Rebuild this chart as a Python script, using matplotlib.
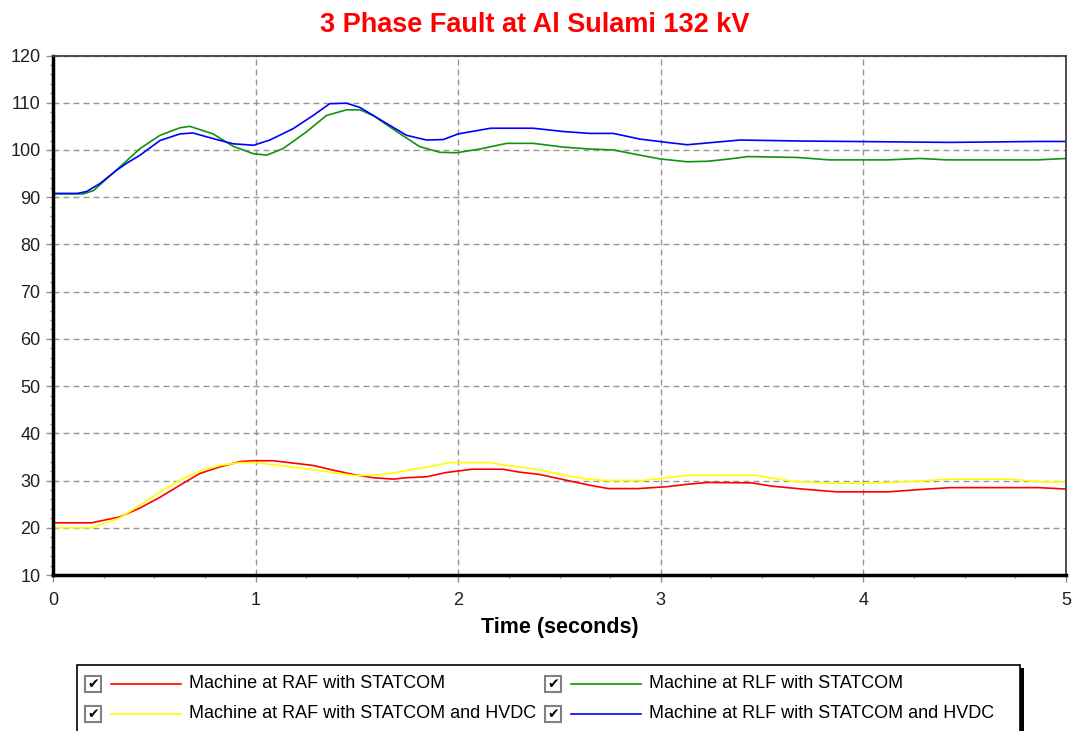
import matplotlib.pyplot as plt
from matplotlib.lines import Line2D
from matplotlib.patches import Rectangle
from matplotlib.ticker import MultipleLocator

plt.rcParams['font.family'] = ['Liberation Sans', 'DejaVu Sans']

# --------------- data ---------------
t_raf = [0, 0.19, 0.33, 0.43, 0.53, 0.626, 0.725, 0.824, 0.922, 0.988, 1.086,
         1.185, 1.284, 1.383, 1.48, 1.58, 1.68, 1.745, 1.844, 1.94, 2.07, 2.22,
         2.30, 2.40, 2.53, 2.65, 2.74, 2.89, 3.03, 3.13, 3.23, 3.45, 3.55, 3.7,
         3.87, 4.12, 4.28, 4.43, 4.865, 5.0]
v_raf = [21.05, 21.05, 22.3, 24.2, 26.5, 29.0, 31.5, 32.9, 34.0, 34.2, 34.2,
         33.7, 33.2, 32.2, 31.3, 30.6, 30.3, 30.6, 30.8, 31.7, 32.4, 32.4,
         31.8, 31.3, 30.1, 29.0, 28.3, 28.3, 28.7, 29.2, 29.6, 29.5, 28.8, 28.2,
         27.6, 27.6, 28.1, 28.5, 28.5, 28.2]

t_raf_hvdc = [0, 0.19, 0.33, 0.43, 0.53, 0.626, 0.725, 0.824, 0.922, 1.0, 1.12,
              1.25, 1.383, 1.48, 1.58, 1.68, 1.78, 1.88, 1.96, 2.06, 2.15, 2.24,
              2.37, 2.485, 2.62, 2.73, 2.91, 3.03, 3.13, 3.47, 3.54, 3.64, 3.83,
              3.97, 4.2, 4.43, 4.72, 4.88, 5.0]
v_raf_hvdc = [20.0, 20.0, 22.1, 24.8, 27.6, 30.1, 32.0, 33.2, 33.8, 33.8, 33.2,
              32.5, 31.7, 31.1, 31.1, 31.6, 32.4, 33.1, 33.8, 33.8, 33.8, 33.2,
              32.5, 31.5, 30.4, 30.0, 30.0, 30.6, 31.1, 31.1, 30.6, 29.9, 29.4,
              29.4, 29.7, 30.3, 30.3, 29.7, 29.7]

t_rlf = [0, 0.15, 0.2, 0.33, 0.43, 0.528, 0.627, 0.675, 0.79, 0.89, 0.99,
         1.055, 1.136, 1.25, 1.35, 1.449, 1.515, 1.58, 1.71, 1.81, 1.91, 1.99,
         2.107, 2.24, 2.37, 2.52, 2.65, 2.766, 2.897, 2.996, 3.13, 3.23, 3.34,
         3.43, 3.68, 3.83, 4.12, 4.28, 4.41, 4.86, 5.0]
v_rlf = [90.7, 90.7, 91.4, 96.4, 100.3, 103.1, 104.7, 105.0, 103.4, 100.75, 99.2,
         98.9, 100.3, 103.8, 107.3, 108.5, 108.5, 107.3, 103.5, 100.7, 99.5, 99.4,
         100.2, 101.4, 101.4, 100.6, 100.2, 100.0, 98.9, 98.1, 97.5, 97.6, 98.1,
         98.6, 98.4, 97.9, 97.9, 98.2, 97.9, 97.9, 98.2]

t_rlf_hvdc = [0, 0.12, 0.166, 0.232, 0.314, 0.364, 0.43, 0.528, 0.627, 0.69,
              0.808, 0.89, 0.99, 1.07, 1.185, 1.284, 1.366, 1.449, 1.515, 1.647,
              1.745, 1.844, 1.926, 2.0, 2.16, 2.37, 2.52, 2.65, 2.766, 2.897,
              3.03, 3.13, 3.26, 3.39, 3.68, 4.43, 4.865, 5.0]
v_rlf_hvdc = [90.8, 90.8, 91.2, 92.9, 95.7, 97.2, 98.9, 102.0, 103.4, 103.6,
              102.2, 101.3, 101.0, 102.1, 104.5, 107.3, 109.8, 109.9, 109.0, 105.6,
              103.1, 102.1, 102.2, 103.4, 104.6, 104.6, 103.9, 103.5, 103.5, 102.3,
              101.6, 101.1, 101.6, 102.1, 101.9, 101.6, 101.8, 101.8]

labels = ["Machine at RAF with STATCOM",
          "Machine at RLF with STATCOM",
          "Machine at RAF with STATCOM and HVDC",
          "Machine at RLF with STATCOM and HVDC"]
colors = ["#ff0000", "#119311", "#ffff00", "#0000ff"]
series = [(t_raf, v_raf), (t_rlf, v_rlf), (t_raf_hvdc, v_raf_hvdc),
          (t_rlf_hvdc, v_rlf_hvdc)]

W, H = 1077, 731
fig = plt.figure(figsize=(W / 100, H / 100), dpi=100)
ax = fig.add_axes([53 / W, 1 - 575 / H, (1066 - 53) / W, (575 - 55.5) / H])

for (t, v), c in zip(series, colors):
    ax.plot(t, v, color=c, lw=1.2)

ax.set_xlim(0, 5)
ax.set_ylim(10, 120)
ax.xaxis.set_major_locator(MultipleLocator(1))
ax.xaxis.set_minor_locator(MultipleLocator(0.25))
ax.yaxis.set_major_locator(MultipleLocator(10))
ax.yaxis.set_minor_locator(MultipleLocator(2))
ax.grid(True, which='major', color='#959595', lw=1.0, ls=(0, (4.3, 2.9)))
ax.tick_params(which='major', length=5, width=1, color='#909090',
               labelsize=13, labelcolor='#202020')
ax.tick_params(which='minor', length=2.5, width=1, color='#909090')
ax.tick_params(axis='x', which='major', pad=7)
ax.tick_params(axis='y', which='major', pad=4)

for side in ('left', 'bottom'):
    ax.spines[side].set_linewidth(2.5)
    ax.spines[side].set_color('black')
for side in ('top', 'right'):
    ax.spines[side].set_linewidth(1.3)
    ax.spines[side].set_color('#404040')

ax.set_xlabel("Time (seconds)", fontsize=15.5, fontweight='bold', labelpad=6)
fig.text(535 / W, 1 - 25 / H, "3 Phase Fault at Al Sulami 132 kV",
         color='#ff0000', fontsize=19.5, fontweight='bold',
         ha='center', va='center')

# --------------- legend panel with check boxes ---------------
def fx(px):
    return px / W


def fy(py):
    return 1 - py / H


fig.patches.append(Rectangle((fx(1019), fy(735)), fx(5), fy(668) - fy(735),
                             transform=fig.transFigure, facecolor='black',
                             edgecolor='none'))
fig.patches.append(Rectangle((fx(77), fy(735)), fx(1020 - 77), fy(665) - fy(735),
                             transform=fig.transFigure, facecolor='white',
                             edgecolor='black', lw=1.2))

cols = [85, 545]
rows = [684, 714]
for i, (lab, c) in enumerate(zip(labels, colors)):
    x0 = cols[i % 2]
    y0 = rows[i // 2]
    fig.patches.append(Rectangle((fx(x0), fy(y0 + 8)), fx(16), fy(y0 - 8) - fy(y0 + 8),
                                 transform=fig.transFigure, facecolor='white',
                                 edgecolor='#808080', lw=1.5))
    fig.text(fx(x0 + 8), fy(y0), "\u2714", fontsize=10, ha='center', va='center',
             color='black', family='DejaVu Sans')
    fig.add_artist(Line2D([fx(x0 + 26), fx(x0 + 96)], [fy(y0), fy(y0)],
                          color=c, lw=1.2, transform=fig.transFigure))
    fig.text(fx(x0 + 104), fy(y0), lab, fontsize=13, ha='left', va='center',
             color='black')

fig.savefig("out.png", dpi=100)
